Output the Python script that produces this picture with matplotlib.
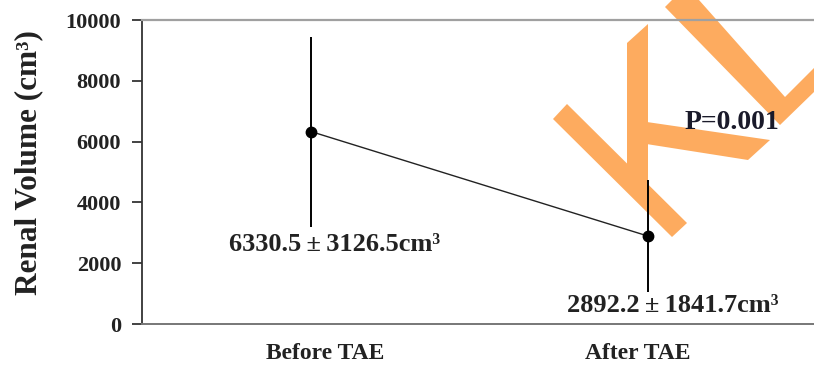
import numpy as np
import matplotlib.pyplot as plt
from matplotlib.patches import Polygon
from matplotlib.transforms import ScaledTranslation

groups = ['Before TAE', 'After TAE']
mean_vol = [6330.5, 2892.2]
sd_vol = [3126.5, 1841.7]
p_text = 'P=0.001'

plt.rcParams['font.family'] = ['Liberation Serif', 'DejaVu Serif']
plt.rcParams['font.weight'] = 'bold'
plt.rcParams['axes.labelweight'] = 'bold'

W, H = 814, 366
fig = plt.figure(figsize=(W / 100, H / 100), dpi=100)
ax = fig.add_axes([142 / W, 42 / H, 1 - 142 / W, 304 / H])

x = np.arange(len(groups))
ax.plot(x, mean_vol, color='#222222', lw=1.0, zorder=3)
ax.errorbar(x, mean_vol, yerr=sd_vol, fmt='o', color='black', ms=7.5,
            elinewidth=1.4, capsize=0, zorder=4)

ax.set_xlim(-0.5015, 1.4926)
ax.set_ylim(0, 10000)
ax.set_yticks(np.arange(0, 10001, 2000))
ax.tick_params(axis='y', direction='out', length=7, width=1.2, pad=8,
               labelsize=16, colors='#222222')
ax.set_xticks(x)
ax.set_xticklabels(groups, fontsize=17)
ax.tick_params(axis='x', length=0, pad=14, colors='#222222')
# nudge the group names a little off the marker columns
for lab, dx in zip(ax.get_xticklabels(), [14, -10]):
    lab.set_transform(lab.get_transform() + ScaledTranslation(dx / 100, 0, fig.dpi_scale_trans))

ax.set_ylabel('Renal Volume (cm³)', fontsize=22.5, color='#222222')
ax.yaxis.set_label_coords(-0.147, 0.53)

ax.spines['right'].set_visible(False)
ax.spines['top'].set_color('#a0a0a0')
ax.spines['top'].set_linewidth(1.6)
ax.spines['bottom'].set_color('#777777')
ax.spines['bottom'].set_linewidth(1.4)
ax.spines['left'].set_color('#333333')
ax.spines['left'].set_linewidth(1.3)

# mean +/- sd labels under each error bar
offsets = [(0.07, -18), (0.073, -13)]
for xi, m, s, (dx, dy) in zip(x, mean_vol, sd_vol, offsets):
    ax.annotate(f'{m:.1f}\u2009±\u2009{s:.1f}cm³', (xi + dx, m - s), xytext=(0, dy),
                textcoords='offset pixels', ha='center', va='center',
                fontsize=19, color='#222222', zorder=6)

ax.text(0.878, 0.664, p_text, transform=ax.transAxes, ha='center', va='center',
        fontsize=20, color='#1a1a2a', zorder=6)

# orange stamp strokes
stamp = [
    [(553, 119), (567, 104), (687, 223), (672, 237)],
    [(627, 43), (648, 24), (648, 195), (627, 175)],
    [(640, 121), (770, 140), (748, 160), (640, 143)],
    [(665, 7), (672, 0), (699, 0), (785, 97), (814, 68), (814, 92), (780, 125)],
]
for pts in stamp:
    poly = Polygon([(px / W, 1 - py / H) for px, py in pts], closed=True,
                   transform=fig.transFigure, facecolor='#fdab5f',
                   edgecolor='none', clip_on=False, zorder=2.2)
    ax.add_patch(poly)

fig.savefig('out.png', dpi=100, facecolor='white')
